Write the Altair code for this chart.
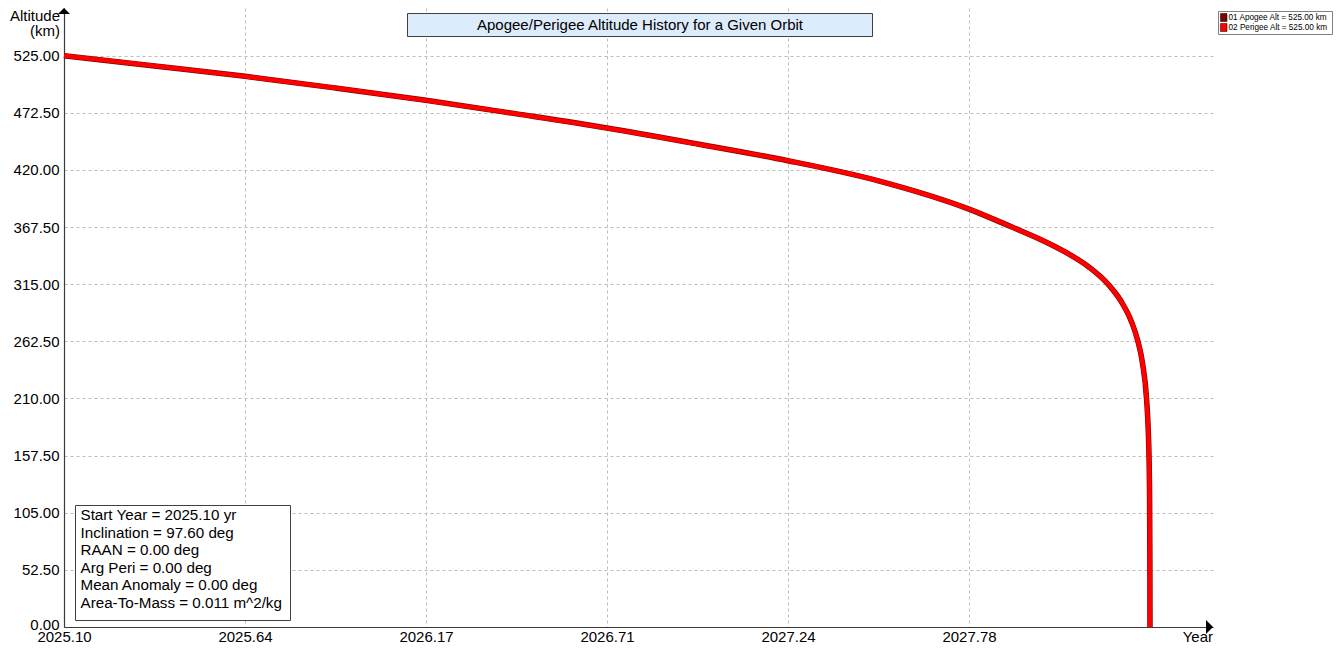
import altair as alt
import pandas as pd

# ---------------- data ----------------
series_names = ["01 Apogee Alt = 525.00 km", "02 Perigee Alt = 525.00 km"]
series_colors = ["#800000", "#ff0000"]

years = [2025.100, 2025.368, 2025.636, 2025.903, 2026.171, 2026.439, 2026.707,
         2026.975, 2027.242, 2027.510, 2027.778, 2027.905, 2027.988, 2028.0635,
         2028.1335, 2028.1895, 2028.2285, 2028.2585, 2028.2779, 2028.2915,
         2028.3033, 2028.3085, 2028.3106, 2028.3123, 2028.3132, 2028.3135]
apogee_km = [525.0, 515.6, 506.0, 495.3, 484.0, 471.5, 458.5,
             443.8, 428.5, 410.0, 384.0, 367.5, 356.3, 344.4,
             330.6, 315.0, 299.1, 280.8, 262.5, 242.3,
             210.0, 180.1, 157.5, 120.2, 62.0, 0.0]
perigee_km = [525.0, 515.6, 506.0, 495.3, 484.0, 471.5, 458.5,
              443.8, 428.5, 410.0, 384.0, 367.5, 356.3, 344.4,
              330.6, 315.0, 299.1, 280.8, 262.5, 242.3,
              210.0, 180.1, 157.5, 120.2, 62.0, 0.0]

x_ticks = [2025.10, 2025.6356, 2026.1712, 2026.7068, 2027.2424, 2027.778]
y_ticks = [0.0, 52.5, 105.0, 157.5, 210.0, 262.5, 315.0, 367.5, 420.0, 472.5, 525.0]
x_domain = [2025.10, 2028.50]
y_domain = [0.0, 568.8]

title_text = "Apogee/Perigee Altitude History for a Given Orbit"
y_title_lines = ["Altitude", "(km)"]
x_title = "Year"
info_lines = [
    "Start Year = 2025.10 yr",
    "Inclination = 97.60 deg",
    "RAAN = 0.00 deg",
    "Arg Peri = 0.00 deg",
    "Mean Anomaly = 0.00 deg",
    "Area-To-Mass = 0.011 m^2/kg",
]

# ---------------- chart ----------------
FONT = "Liberation Sans"
df = pd.DataFrame({"year": years, "apogee": apogee_km, "perigee": perigee_km})
one = pd.DataFrame({"a": [0]})

xs = alt.Scale(domain=x_domain, nice=False, zero=False)
ys = alt.Scale(domain=y_domain, nice=False, zero=False)

x_axis = alt.Axis(values=x_ticks, format=".2f", title=None, grid=True,
                  gridDash=[3, 3], gridColor="#bcbcbc", gridWidth=1,
                  ticks=False, tickSize=0, labelPadding=14.5,
                  labelBaseline="alphabetic", labelFontSize=15, labelFont=FONT,
                  labelColor="#000000", domainColor="#3a3a3a", domainWidth=1.2,
                  labelFlush=False, labelOverlap=False)
y_axis = alt.Axis(values=y_ticks, format=".2f", title=None, grid=True,
                  gridDash=[3, 3], gridColor="#bcbcbc", gridWidth=1,
                  ticks=False, tickSize=0, labelPadding=5,
                  labelOffset=alt.condition("datum.value == 0", alt.value(-3), alt.value(0)),
                  labelFontSize=15, labelFont=FONT, labelColor="#000000",
                  domainColor="#3a3a3a", domainWidth=1.2,
                  labelFlush=False, labelOverlap=False)

apogee = alt.Chart(df).mark_line(color=series_colors[0], strokeWidth=5.5,
                                 interpolate="monotone").encode(
    x=alt.X("year:Q", scale=xs, axis=x_axis, title=None),
    y=alt.Y("apogee:Q", scale=ys, axis=y_axis, title=None),
)
perigee = alt.Chart(df).mark_line(color=series_colors[1], strokeWidth=4.3,
                                  interpolate="monotone").encode(
    x=alt.X("year:Q", scale=xs, axis=x_axis, title=None),
    y=alt.Y("perigee:Q", scale=ys, axis=y_axis, title=None),
)

# axis arrows, placed at the ends of the scale domains
arrow_top = alt.Chart(pd.DataFrame({"year": [x_domain[0]], "alt": [y_domain[1]]})).mark_point(
    shape="M -1 1 L 1 1 L 0 0 Z", size=144, filled=True, color="#000000", opacity=1
).encode(x=alt.X("year:Q", scale=xs, axis=x_axis, title=None),
         y=alt.Y("alt:Q", scale=ys, axis=y_axis, title=None))
arrow_right = alt.Chart(pd.DataFrame({"year": [x_domain[1]], "alt": [y_domain[0]]})).mark_point(
    shape="M 0 0 L -1 -1 L -1 1 Z", size=196, filled=True, color="#000000", opacity=1
).encode(x=alt.X("year:Q", scale=xs, axis=x_axis, title=None),
         y=alt.Y("alt:Q", scale=ys, axis=y_axis, title=None))

# y-axis title (top-left) and x-axis title (bottom-right)
y_title = alt.Chart(one).mark_text(
    text=y_title_lines, align="right", baseline="alphabetic", fontSize=15,
    font=FONT, color="#000000", lineHeight=15
).encode(x=alt.value(-4), y=alt.value(13))
x_title_mark = alt.Chart(one).mark_text(
    text=x_title, align="right", baseline="alphabetic", fontSize=15,
    font=FONT, color="#000000"
).encode(x=alt.value(1149), y=alt.value(633.5))

# title box
title_box = alt.Chart(one).mark_rect(
    fill="#dcecfc", stroke="#404040", strokeWidth=1
).encode(x=alt.value(343.5), x2=alt.value(808.5), y=alt.value(5.5), y2=alt.value(28.5))
title_mark = alt.Chart(one).mark_text(
    text=title_text, align="center", baseline="middle", fontSize=15,
    font=FONT, color="#000000"
).encode(x=alt.value(576), y=alt.value(17))

# info box
info_box = alt.Chart(one).mark_rect(
    fill="#ffffff", stroke="#404040", strokeWidth=1
).encode(x=alt.value(11.5), x2=alt.value(226.5), y=alt.value(497.5), y2=alt.value(612.5))
info_mark = alt.Chart(one).mark_text(
    text=info_lines, align="left", baseline="alphabetic", fontSize=15.2,
    font=FONT, color="#000000", lineHeight=17.6
).encode(x=alt.value(16.5), y=alt.value(512))

# legend (top right)
legend_box = alt.Chart(one).mark_rect(
    fill="#ffffff", stroke="#808080", strokeWidth=1
).encode(x=alt.value(1154.5), x2=alt.value(1268.5), y=alt.value(3.5), y2=alt.value(26.5))
leg_sw1 = alt.Chart(one).mark_rect(fill=series_colors[0], stroke="#000000", strokeWidth=0.5).encode(
    x=alt.value(1156.5), x2=alt.value(1163), y=alt.value(5.5), y2=alt.value(13.5))
leg_sw2 = alt.Chart(one).mark_rect(fill=series_colors[1], stroke="#000000", strokeWidth=0.5).encode(
    x=alt.value(1156.5), x2=alt.value(1163), y=alt.value(15.5), y2=alt.value(23.5))
leg_t1 = alt.Chart(one).mark_text(
    text=series_names[0], align="left", baseline="middle", fontSize=8.2, font=FONT, color="#000000"
).encode(x=alt.value(1164.5), y=alt.value(9.8))
leg_t2 = alt.Chart(one).mark_text(
    text=series_names[1], align="left", baseline="middle", fontSize=8.2, font=FONT, color="#000000"
).encode(x=alt.value(1164.5), y=alt.value(19.8))

chart = alt.layer(
    apogee, perigee, arrow_top, arrow_right, y_title, x_title_mark,
    title_box, title_mark, info_box, info_mark,
    legend_box, leg_sw1, leg_sw2, leg_t1, leg_t2
).properties(
    width=1149, height=619,
    autosize=alt.AutoSizeParams(type="none"),
    padding={"left": 56, "top": 0, "right": 122, "bottom": 18},
    background="#ffffff",
).configure_view(stroke=None)

chart.save("out.html", embed_options={"renderer": "svg", "actions": False})
